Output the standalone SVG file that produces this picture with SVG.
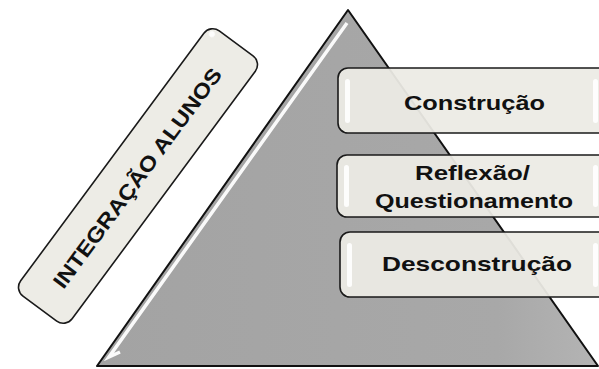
<svg xmlns="http://www.w3.org/2000/svg" width="599" height="369" viewBox="0 0 599 369">
  <defs>
    <style>
      .lbl { font-family: "Liberation Sans", Arial, sans-serif; font-weight: bold; font-size: 21px; fill: #111; text-anchor: middle; }
      .card { fill: #ecebe4; fill-opacity: 0.94; stroke: #1a1a1a; stroke-width: 1.6; }
      .gloss { fill: #ffffff; opacity: 0.9; }
    </style>
    <linearGradient id="pyrFill" x1="0" y1="0" x2="1" y2="0">
      <stop offset="0" stop-color="#a3a3a3"/>
      <stop offset="0.8" stop-color="#a8a8a8"/>
      <stop offset="1" stop-color="#b4b4b4"/>
    </linearGradient>
    <filter id="soft" x="-10%" y="-10%" width="120%" height="120%">
      <feGaussianBlur stdDeviation="0.7"/>
    </filter>
  </defs>

  <!-- pyramid -->
  <g id="pyramid">
    <polygon points="348,10 97,366 598,366" fill="url(#pyrFill)" stroke="#111" stroke-width="2" stroke-linejoin="round"/>
    <!-- inner bevel highlights -->
    <polyline points="347,23 109,357 120,352" fill="none" stroke="#ffffff" stroke-width="3.5" opacity="0.95" filter="url(#soft)"/>
    <line x1="112" y1="362" x2="588" y2="362" stroke="#cfcfcf" stroke-width="4" filter="url(#soft)"/>
  </g>

  <!-- side label, tilted -->
  <g id="integracao" transform="translate(138,176) rotate(-53.5)">
    <rect class="card" x="-165" y="-32" width="330" height="64" rx="11"/>
    <circle cx="158" cy="-25" r="3" class="gloss" filter="url(#soft)"/>
    <text class="lbl" x="-2" y="8" font-size="22" textLength="268" lengthAdjust="spacingAndGlyphs">INTEGRAÇÃO ALUNOS</text>
  </g>

  <!-- level cards -->
  <g id="construcao">
    <rect class="card" x="338" y="68" width="275" height="65" rx="10"/>
    <rect class="gloss" x="345" y="79" width="5" height="44" rx="2.5"/>
    <rect class="gloss" x="593" y="79" width="5" height="44" rx="2.5"/>
    <text class="lbl" x="474.5" y="110" textLength="141" lengthAdjust="spacingAndGlyphs">Construção</text>
  </g>

  <g id="reflexao">
    <rect class="card" x="337" y="155" width="276" height="62" rx="10"/>
    <rect class="gloss" x="344" y="165" width="5" height="42" rx="2.5"/>
    <rect class="gloss" x="593" y="165" width="5" height="42" rx="2.5"/>
    <text class="lbl" x="472.5" y="180" textLength="115" lengthAdjust="spacingAndGlyphs">Reflexão/</text>
    <text class="lbl" x="474" y="208" textLength="198" lengthAdjust="spacingAndGlyphs">Questionamento</text>
  </g>

  <g id="desconstrucao">
    <rect class="card" x="340" y="232" width="273" height="65" rx="10"/>
    <rect class="gloss" x="347" y="243" width="5" height="44" rx="2.5"/>
    <rect class="gloss" x="593" y="243" width="5" height="44" rx="2.5"/>
    <text class="lbl" x="477" y="271" textLength="190" lengthAdjust="spacingAndGlyphs">Desconstrução</text>
  </g>

  <g id="connectors"/>
</svg>
